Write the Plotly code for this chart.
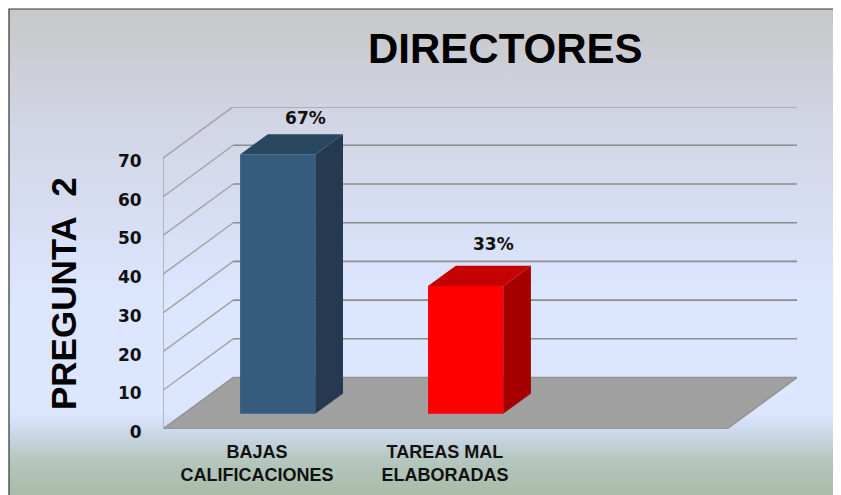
import plotly.graph_objects as go

# datos del grafico
categorias = ["BAJAS<br>CALIFICACIONES", "TAREAS MAL<br>ELABORADAS"]
valores = [67, 33]
etiquetas = ["67%", "33%"]
alto_etiqueta = [1.5, 3]   # separacion extra de cada etiqueta sobre su barra
ticks_y = [0, 10, 20, 30, 40, 50, 60, 70]
titulo = "DIRECTORES"
titulo_y = "PREGUNTA\u00a0\u00a02"

# colores de cada barra: frente, lado, tapa
color_frente = ["#355C7D", "#FF0000"]
color_lado = ["#253A50", "#A60000"]
color_tapa = ["#284860", "#C40000"]

# proyeccion oblicua para el efecto 3D
DX = 0.3735     # desplazamiento en categorias de la pared del fondo
DY = 13.3       # desplazamiento en unidades del eje y
ANCHO = 0.4
Z_FRENTE = 0.295
Z_FONDO = 0.69
X_MIN = -0.5
X_MAX = 2.5

# la pagina deja 8px de margen en el body
MARGEN = 8
W = 841 - MARGEN
H = 495 - MARGEN


def px_x(p):
    return (p - MARGEN) / W


def px_y(p):
    return 1 - (p - MARGEN) / H


def proy(x, y, z):
    return x + z * DX, y + z * DY


def camino(puntos):
    return "M " + " L ".join(f"{x},{y}" for x, y in puntos)


fig = go.Figure()

# fondo degradado en coordenadas de pixel
fig.add_trace(go.Scatter(
    x=[9, 841, 841, 9], y=[9, 9, 495, 495],
    mode="lines", fill="toself", line=dict(width=0),
    fillgradient=dict(
        type="vertical",
        colorscale=[
            [0.0, "#A8BCA9"],
            [0.07, "#B4C6BE"],
            [0.13, "#CBD9EA"],
            [0.17, "#DCE6FF"],
            [0.4, "#DCE6FF"],
            [0.75, "#D2D6E6"],
            [1.0, "#C8C8C8"],
        ],
    ),
    hoverinfo="skip", xaxis="x", yaxis="y",
))
# marco
fig.add_trace(go.Scatter(
    x=[9, 9, 841], y=[495, 9, 9], mode="lines",
    line=dict(color="#333333", width=1.2),
    hoverinfo="skip", xaxis="x", yaxis="y",
))

formas = []
# piso
piso = [proy(X_MIN, 0, 0), proy(X_MAX, 0, 0), proy(X_MAX, 0, 1), proy(X_MIN, 0, 1)]
formas.append(dict(type="path", path=camino(piso) + " Z", xref="x2", yref="y2", layer="below",
                   fillcolor="#A0A0A0", line=dict(color="#949494", width=1.5)))
# paredes y lineas de division
for v in ticks_y[1:]:
    formas.append(dict(type="path", path=camino([proy(X_MIN, v, 0), proy(X_MIN, v, 1)]),
                       xref="x2", yref="y2", layer="below",
                       line=dict(color="#A2A2A2", width=1.4)))
    formas.append(dict(type="path", path=camino([proy(X_MIN, v, 1), proy(X_MAX, v, 1)]),
                       xref="x2", yref="y2", layer="below",
                       line=dict(color="#8C8C8C", width=1.6)))
formas.append(dict(type="line", x0=X_MIN, x1=X_MIN, y0=0, y1=ticks_y[-1], xref="x2", yref="y2",
                   layer="below", line=dict(color="#A6A6A6", width=1.5)))

# frente de las barras
x_barras = [proy(i, 0, Z_FRENTE)[0] for i in range(len(valores))]
base = proy(0, 0, Z_FRENTE)[1]
fig.add_trace(go.Bar(
    x=x_barras, y=valores, base=base, width=ANCHO,
    marker=dict(color=color_frente, line=dict(width=0)),
    xaxis="x2", yaxis="y2", hoverinfo="skip",
))

# lados y tapas
for i, v in enumerate(valores):
    izq, der = i - ANCHO / 2, i + ANCHO / 2
    lado = [proy(der, 0, Z_FRENTE), proy(der, v, Z_FRENTE), proy(der, v, Z_FONDO), proy(der, 0, Z_FONDO)]
    tapa = [proy(izq, v, Z_FRENTE), proy(der, v, Z_FRENTE), proy(der, v, Z_FONDO), proy(izq, v, Z_FONDO)]
    for pol, color in ((lado, color_lado[i]), (tapa, color_tapa[i])):
        fig.add_trace(go.Scatter(
            x=[p[0] for p in pol], y=[p[1] for p in pol],
            mode="lines", fill="toself", fillcolor=color, line=dict(width=0),
            xaxis="x2", yaxis="y2", hoverinfo="skip",
        ))

# etiquetas de porcentaje
fig.add_trace(go.Scatter(
    x=[proy(i, v, Z_FONDO)[0] for i, v in enumerate(valores)],
    y=[proy(i, v, Z_FONDO)[1] + alto_etiqueta[i] for i, v in enumerate(valores)],
    mode="text", text=etiquetas, textposition="top center",
    textfont=dict(family="DejaVu Sans", size=17, color="#111111", weight="bold"),
    xaxis="x2", yaxis="y2", hoverinfo="skip", cliponaxis=False,
))

fig.add_annotation(text=f"<b>{titulo}</b>", xref="paper", yref="paper",
                   x=px_x(505.5), y=px_y(49), showarrow=False, xanchor="center", yanchor="middle",
                   font=dict(family="Liberation Sans", size=42, color="black"))
fig.add_annotation(text=f"<b>{titulo_y}</b>", xref="paper", yref="paper",
                   x=px_x(63), y=px_y(294), showarrow=False, textangle=-90,
                   xanchor="center", yanchor="middle",
                   font=dict(family="Liberation Sans", size=35, color="black"))

fig.update_layout(
    width=W, height=H,
    margin=dict(l=0, r=0, t=0, b=0),
    paper_bgcolor="white",
    plot_bgcolor="rgba(0,0,0,0)",
    showlegend=False,
    shapes=formas,
    xaxis=dict(domain=[0, 1], range=[MARGEN, 841], visible=False, fixedrange=True, automargin=False),
    yaxis=dict(domain=[0, 1], range=[495, MARGEN], visible=False, fixedrange=True, automargin=False),
    xaxis2=dict(
        domain=[px_x(163), px_x(797)], range=[X_MIN, X_MAX + DX], anchor="y2",
        tickmode="array", tickvals=list(range(len(categorias))), ticktext=categorias,
        ticks="outside", ticklen=6, tickcolor="rgba(0,0,0,0)", automargin=False,
        showgrid=False, zeroline=False, showline=False,
        tickfont=dict(family="Liberation Sans", size=18, color="#111111", weight="bold"),
    ),
    yaxis2=dict(
        domain=[px_y(429), px_y(107)], range=[0, 83.2], anchor="x2",
        tickmode="array", tickvals=ticks_y,
        ticks="outside", ticklen=17, tickcolor="rgba(0,0,0,0)", automargin=False,
        ticklabelshift=3,
        showgrid=False, zeroline=False, showline=False,
        tickfont=dict(family="DejaVu Sans", size=17, color="#111111", weight="bold"),
    ),
)

fig.write_html("out.html", default_width=f"{W}px", default_height=f"{H}px")
